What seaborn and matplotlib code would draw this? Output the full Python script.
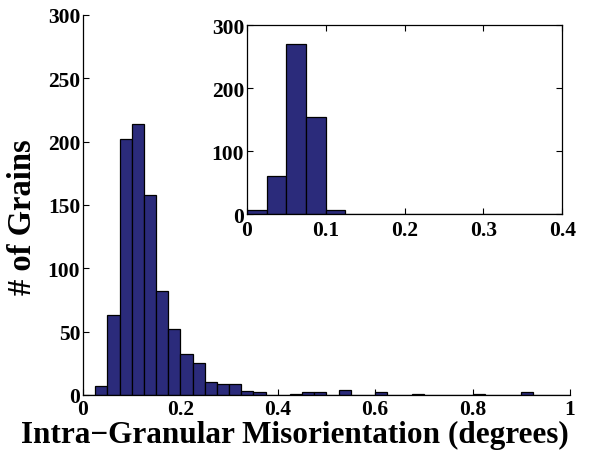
import numpy as np
import pandas as pd
import matplotlib
matplotlib.use("Agg")
import matplotlib.pyplot as plt
import seaborn as sns

# main histogram: bins of width 0.025 from 0 to 1
main_edges = [round(i * 0.025, 4) for i in range(41)]
main_counts = [0, 7, 63, 202, 214, 158, 82, 52, 32, 25,
               10, 9, 9, 3, 2, 0, 0, 1, 2, 2,
               0, 4, 0, 0, 2, 0, 0, 1, 0, 0,
               0, 0, 1, 0, 0, 0, 2, 0, 0, 0]

# inset histogram: bins of width 0.025 from 0 to 0.4
inset_edges = [round(i * 0.025, 4) for i in range(17)]
inset_counts = [6, 61, 270, 154, 7, 0, 0, 0,
                0, 0, 0, 0, 0, 0, 0, 0]

main_xticks = [0, 0.2, 0.4, 0.6, 0.8, 1]
main_xticklabels = ["0", "0.2", "0.4", "0.6", "0.8", "1"]
main_yticks = [0, 50, 100, 150, 200, 250, 300]
inset_xticks = [0, 0.1, 0.2, 0.3, 0.4]
inset_xticklabels = ["0", "0.1", "0.2", "0.3", "0.4"]
inset_yticks = [0, 100, 200, 300]

bar_color = "#2b2b7b"


def hist_frame(edges, counts):
    e = np.array(edges)
    return pd.DataFrame({"x": (e[:-1] + e[1:]) / 2, "w": counts})


sns.set_theme(style="ticks")
plt.rcParams["font.family"] = ["Liberation Serif", "DejaVu Serif"]
plt.rcParams["font.weight"] = "bold"
plt.rcParams["axes.labelweight"] = "bold"
plt.rcParams["xtick.direction"] = "in"
plt.rcParams["ytick.direction"] = "in"
for key in ["text.color", "axes.labelcolor", "xtick.color", "ytick.color",
            "xtick.labelcolor", "ytick.labelcolor"]:
    plt.rcParams[key] = "black"

fig = plt.figure(figsize=(5.93, 4.52), dpi=100)
ax = fig.add_axes([0.14, 0.124, 0.821, 0.841])

sns.histplot(data=hist_frame(main_edges, main_counts), x="x", weights="w",
             bins=main_edges, ax=ax, color=bar_color, edgecolor="black",
             linewidth=0.9, alpha=1)
ax.set_xlim(0, 1)
ax.set_ylim(0, 300)
ax.set_xticks(main_xticks)
ax.set_xticklabels(main_xticklabels)
ax.set_yticks(main_yticks)
ax.tick_params(labelsize=15.5, length=4, width=0.8, color="black", pad=2)
ax.tick_params(axis="x", pad=3)
for lab in ax.get_xticklabels() + ax.get_yticklabels():
    lab.set_fontweight("bold")
ax.spines["top"].set_visible(False)
ax.spines["right"].set_visible(False)
for s in ["left", "bottom"]:
    ax.spines[s].set_color("black")
    ax.spines[s].set_linewidth(0.9)
ax.set_xlabel("Intra\u2212Granular Misorientation (degrees)", fontsize=22.5,
              fontweight="bold")
ax.set_ylabel("# of Grains", fontsize=23.5, fontweight="bold")
ax.xaxis.set_label_coords(0.435, -0.124, transform=ax.transAxes)
ax.xaxis.label.set_va("baseline")
ax.yaxis.set_label_coords(-0.125, 0.47, transform=ax.transAxes)
ax.yaxis.label.set_va("center")

# inset
axin = fig.add_axes([0.4165, 0.524, 0.5315, 0.418])
sns.histplot(data=hist_frame(inset_edges, inset_counts), x="x", weights="w",
             bins=inset_edges, ax=axin, color=bar_color, edgecolor="black",
             linewidth=0.9, alpha=1)
axin.set_xlim(0, 0.4)
axin.set_ylim(0, 300)
axin.set_xticks(inset_xticks)
axin.set_xticklabels(inset_xticklabels)
axin.set_yticks(inset_yticks)
axin.set_xlabel("")
axin.set_ylabel("")
axin.tick_params(labelsize=15.5, length=4, width=0.8, color="black", pad=2,
                 top=True, right=True)
axin.tick_params(axis="x", pad=4)
for lab in axin.get_xticklabels() + axin.get_yticklabels():
    lab.set_fontweight("bold")
for s in axin.spines.values():
    s.set_visible(True)
    s.set_color("black")
    s.set_linewidth(0.9)

fig.savefig("out.png", dpi=100, facecolor="white")
